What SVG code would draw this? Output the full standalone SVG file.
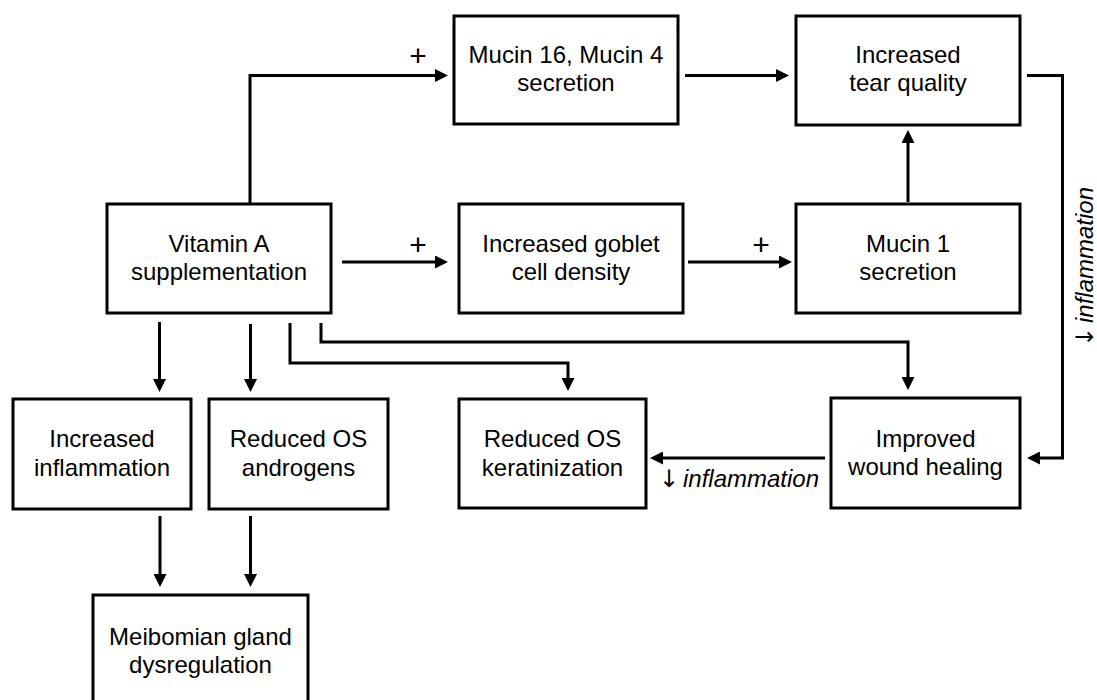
<svg xmlns="http://www.w3.org/2000/svg" width="1097" height="700" viewBox="0 0 1097 700">
<defs>
<style>
.box{fill:#fff;stroke:#000;stroke-width:3}
.t{font-family:"Liberation Sans",Arial,Helvetica,sans-serif;font-size:24px;fill:#000;text-anchor:middle}
.p{font-size:30px}
.i{font-style:italic;text-anchor:start}
.ar{font-family:"DejaVu Sans",sans-serif;font-style:normal;font-size:24px;text-anchor:middle}
.c{fill:none;stroke:#000;stroke-width:3}
</style>
<marker id="ah" markerUnits="userSpaceOnUse" markerWidth="13" markerHeight="13" refX="0" refY="6.5" orient="auto">
<path d="M0,0 L13,6.5 L0,13 z" fill="#000"/>
</marker>
</defs>
<rect width="1097" height="700" fill="#fff"/>
<g id="connectors">
<path class="c" d="M250,204 V75.5 H435" marker-end="url(#ah)"/>
<path class="c" d="M685,75.5 H776" marker-end="url(#ah)"/>
<path class="c" d="M342,262 H435" marker-end="url(#ah)"/>
<path class="c" d="M688,262 H779" marker-end="url(#ah)"/>
<path class="c" d="M908,202 V143" marker-end="url(#ah)"/>
<path class="c" d="M1027,75.5 H1062.5 V458 H1040" marker-end="url(#ah)"/>
<path class="c" d="M825,458 H663" marker-end="url(#ah)"/>
<path class="c" d="M321,323 V342 H908 V377" marker-end="url(#ah)"/>
<path class="c" d="M290,323 V363 H568 V378" marker-end="url(#ah)"/>
<path class="c" d="M159.5,322 V379" marker-end="url(#ah)"/>
<path class="c" d="M250.5,324 V379" marker-end="url(#ah)"/>
<path class="c" d="M160,516 V574" marker-end="url(#ah)"/>
<path class="c" d="M250.5,516 V574" marker-end="url(#ah)"/>
<text class="t p" x="418" y="66">+</text>
<text class="t p" x="418" y="254.5">+</text>
<text class="t p" x="761" y="254.5">+</text>
<text class="t i" y="487"><tspan class="ar" x="669">↓</tspan><tspan x="683">inflammation</tspan></text>
<text class="t i" transform="translate(1093,343) rotate(-90)" y="0"><tspan class="ar" x="6">↓</tspan><tspan x="20">inflammation</tspan></text>
</g>
<g id="mucin16">
<rect class="box" x="454" y="16" width="224" height="108"/>
<text class="t" x="566" y="63">Mucin 16, Mucin 4</text>
<text class="t" x="566" y="91">secretion</text>
</g>
<g id="tear">
<rect class="box" x="796" y="16" width="224" height="109"/>
<text class="t" x="908" y="63">Increased</text>
<text class="t" x="908" y="91">tear quality</text>
</g>
<g id="vitaminA">
<rect class="box" x="107" y="204" width="224" height="109"/>
<text class="t" x="219" y="252">Vitamin A</text>
<text class="t" x="219" y="280">supplementation</text>
</g>
<g id="goblet">
<rect class="box" x="459" y="204" width="224" height="109"/>
<text class="t" x="571" y="252">Increased goblet</text>
<text class="t" x="571" y="280">cell density</text>
</g>
<g id="mucin1">
<rect class="box" x="796" y="204" width="224" height="109"/>
<text class="t" x="908" y="252">Mucin 1</text>
<text class="t" x="908" y="280">secretion</text>
</g>
<g id="inflammation">
<rect class="box" x="13" y="399" width="178" height="110"/>
<text class="t" x="102" y="447">Increased</text>
<text class="t" x="102" y="476">inflammation</text>
</g>
<g id="androgens">
<rect class="box" x="209" y="399" width="179" height="110"/>
<text class="t" x="298.5" y="447">Reduced OS</text>
<text class="t" x="298.5" y="476">androgens</text>
</g>
<g id="keratinization">
<rect class="box" x="459" y="399" width="187" height="109"/>
<text class="t" x="552.5" y="447">Reduced OS</text>
<text class="t" x="552.5" y="476">keratinization</text>
</g>
<g id="wound">
<rect class="box" x="831" y="398" width="189" height="110"/>
<text class="t" x="925.5" y="447">Improved</text>
<text class="t" x="925.5" y="475">wound healing</text>
</g>
<g id="meibomian">
<rect class="box" x="93" y="595" width="215" height="110"/>
<text class="t" x="200.5" y="645">Meibomian gland</text>
<text class="t" x="200.5" y="673">dysregulation</text>
</g>
</svg>
